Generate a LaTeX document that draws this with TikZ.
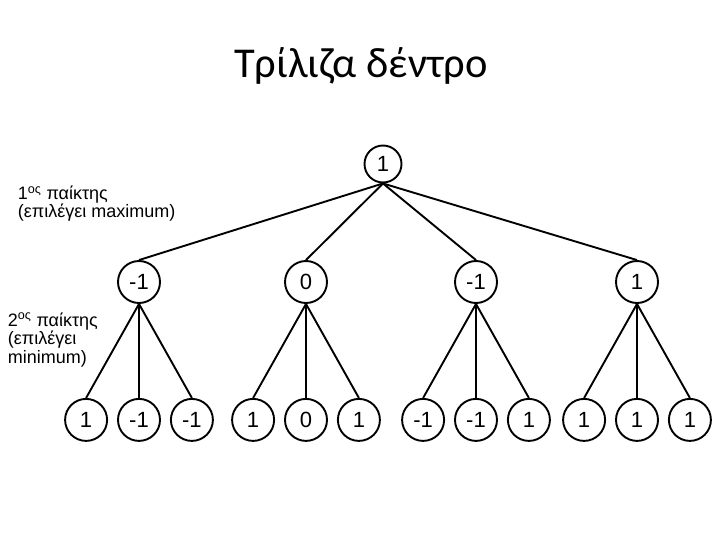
\documentclass[tikz,border=0pt]{standalone}
\usepackage{fontspec}
\setmainfont{Liberation Sans}
\newfontfamily\titlefont{Carlito}
\usetikzlibrary{positioning}

\begin{document}
\begin{tikzpicture}[x=1pt,y=-1pt,node distance=9pt,line width=1.9pt,every node/.style={font=\fontsize{22}{24}\selectfont}]
\tikzstyle{v}=[draw,circle,minimum size=42pt,inner sep=0pt]
\tikzstyle{player}=[align=left,anchor=base west,inner sep=0pt,font=\fontsize{18}{17}\selectfont]
\useasboundingbox (0,0) rectangle (720,540);
\node[anchor=base,font=\titlefont\fontsize{42.5}{44}\selectfont] (title) at (361,78) {Τρίλιζα δέντρο};
% max level
\node[v,minimum size=37pt] (root) at (383,164) {1};
% min level
\node[v] (a) at (139,282) {-1};
\node[v] (b) at (306,282) {0};
\node[v] (c) at (476,282) {-1};
\node[v] (d) at (637,282) {1};
% leaves
\node[v,below=94pt of a] (a2) {-1};
\node[v,left=of a2] (a1) {1};
\node[v,right=of a2] (a3) {-1};
\node[v,below=94pt of b] (b2) {0};
\node[v,left=of b2] (b1) {1};
\node[v,right=of b2] (b3) {1};
\node[v,below=94pt of c] (c2) {-1};
\node[v,left=of c2] (c1) {-1};
\node[v,right=of c2] (c3) {1};
\node[v,below=94pt of d] (d2) {1};
\node[v,left=of d2] (d1) {1};
\node[v,right=of d2] (d3) {1};
\node[player] (p1) at (17,218) {1\textsuperscript{ος} παίκτης\\(επιλέγει maximum)};
\node[player,font=\fontsize{18}{18.5}\selectfont] (p2) at (7,363) {2\textsuperscript{ος} παίκτης\\(επιλέγει\\minimum)};
\foreach \t in {a,b,c,d} \draw (root.south) -- (\t.north);
\foreach \t in {a,b,c,d} \foreach \k in {1,2,3} \draw (\t.south) -- (\t\k.north);
\end{tikzpicture}
\end{document}
